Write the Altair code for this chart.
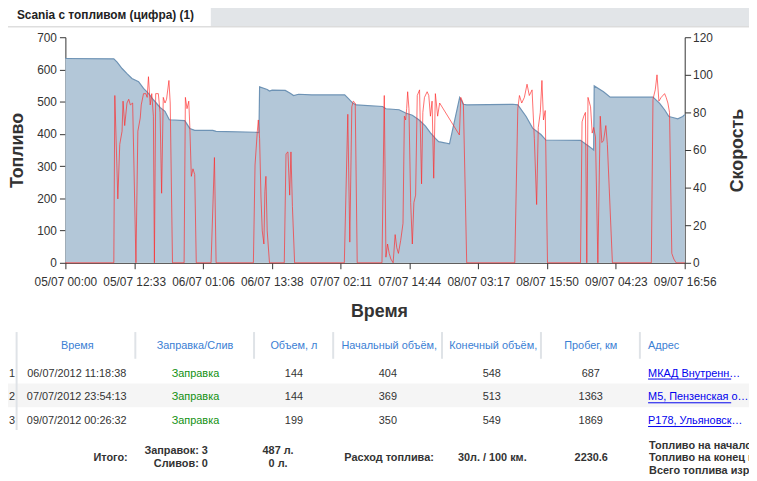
import altair as alt
import pandas as pd

FONT = "Liberation Sans"

# ---- fuel level (minutes since 05/07/2012 00:00, litres)
fuel_t = [0, 530, 566, 620, 674, 728, 801, 855, 909, 963, 1036, 1090, 1137, 1306, 1361, 1415, 1613, 1649, 2100, 2118,
          2125, 2208, 2233, 2262, 2406, 2460, 2497, 2551, 2695, 3056, 3092, 3147, 3182, 3471, 3507, 3651, 3723, 3796, 3867, 3940,
          3994, 4048, 4084, 4203, 4314, 4355, 4391, 4896, 4950, 5041, 5112, 5149, 5203, 5257, 5636, 5726, 5780, 5786, 5888, 5961,
          6429, 6502, 6556, 6603, 6646, 6700, 6754, 6776]
fuel_v = [634, 633, 623, 603, 587, 572, 562, 541, 526, 506, 482, 470, 444, 441, 417, 411, 411, 408, 405, 404,
          546, 538, 533, 536, 535, 526, 519, 523, 521, 521, 511, 495, 490, 485, 478, 475, 465, 458, 444, 424,
          403, 386, 376, 369, 513, 492, 490, 492, 490, 454, 418, 410, 398, 381, 380, 362, 350, 549, 531, 514,
          514, 495, 475, 454, 451, 447, 454, 460]

# ---- speed (minutes since 05/07/2012 00:00, km/h)
speed_t = [0, 530, 541, 574, 595, 620, 631, 649, 674, 693, 711, 736, 772, 793, 819, 830, 855, 880, 895, 909,
           928, 945, 963, 974, 988, 1017, 1036, 1053, 1071, 1090, 1107, 1133, 1147, 1172, 1299, 1313, 1331, 1350, 1361, 1378,
           1396, 1415, 1432, 1594, 1631, 1649, 2057, 2075, 2100, 2111, 2125, 2140, 2154, 2172, 2183, 2194, 2208, 2233, 2395, 2414,
           2435, 2454, 2468, 2484, 2508, 3052, 3090, 3112, 3134, 3150, 3171, 3193, 3464, 3489, 3507, 3525, 3543, 3561, 3586, 3608,
           3626, 3644, 3669, 3694, 3709, 3723, 3734, 3745, 3759, 3778, 3796, 3813, 3832, 3850, 3875, 3897, 3911, 3929, 3958, 3976,
           3994, 4012, 4030, 4048, 4073, 4095, 4311, 4326, 4344, 4355, 4391, 4917, 4950, 4968, 4993, 5022, 5051, 5076, 5106, 5131,
           5156, 5174, 5196, 5214, 5231, 5250, 5275, 5636, 5653, 5672, 5690, 5705, 5718, 5746, 5764, 5780, 5800, 5826, 5852, 5870,
           5888, 5913, 5930, 5985, 6411, 6429, 6454, 6473, 6494, 6519, 6556, 6573, 6592, 6610, 6635, 6657, 6682, 6776]
speed_v = [0, 0, 89, 34, 63, 70, 86, 73, 85, 87, 84, 85, 0, 70, 77, 84, 90, 90, 88, 99,
           84, 90, 78, 0, 90, 90, 80, 37, 88, 85, 87, 97, 85, 0, 0, 88, 82, 86, 73, 46,
           50, 47, 0, 0, 56, 0, 0, 52, 70, 76, 66, 35, 17, 10, 38, 46, 17, 0, 0, 58,
           59, 36, 59, 30, 0, 0, 79, 11, 83, 86, 85, 0, 0, 89, 3, 10, 5, 2, 0, 15,
           8, 5, 12, 21, 78, 76, 82, 91, 82, 32, 10, 32, 36, 89, 92, 42, 80, 88, 91, 89,
           78, 86, 45, 90, 78, 85, 68, 88, 86, 84, 0, 0, 82, 89, 85, 88, 95, 89, 92, 66,
           31, 72, 80, 97, 76, 81, 0, 0, 75, 78, 80, 0, 88, 83, 69, 72, 67, 0, 78, 64,
           65, 73, 63, 0, 0, 87, 92, 100, 86, 88, 90, 88, 85, 80, 5, 2, 0, 0]

x_ticks = [0, 753, 1506, 2258, 3011, 3764, 4517, 5270, 6023, 6776]
fuel_ticks = [0, 100, 200, 300, 400, 500, 600, 700]
speed_ticks = [0, 20, 40, 60, 80, 100, 120]

# ---- table
tab_title = "Scania с топливом (цифра) (1)"
headers = ["Время", "Заправка/Слив", "Объем, л", "Начальный объём, л", "Конечный объём, л", "Пробег, км", "Адрес"]
row_no = [1, 2, 3]
ev_time = ["06/07/2012 11:18:38", "07/07/2012 23:54:13", "09/07/2012 00:26:32"]
ev_type = ["Заправка", "Заправка", "Заправка"]
ev_volume = [144, 144, 199]
ev_start = [404, 369, 350]
ev_end = [548, 513, 549]
ev_mileage = [687, 1363, 1869]
ev_address = ["МКАД Внутренн…", "М5, Пензенская о…", "Р178, Ульяновск…"]
totals_label = "Итого:"
totals_counts = ["Заправок: 3", "Сливов:  0"]
totals_volumes = ["487 л.", "0 л."]
consumption_label = "Расход топлива:"
consumption_value = "30л. / 100 км."
distance_total = "2230.6"
fuel_summary = ["Топливо на начало периода:", "Топливо на конец периода:", "Всего топлива израсходовано:"]

W, H = 626, 228
one = pd.DataFrame({"k": [0]})

fuel_df = pd.DataFrame({"t": fuel_t, "fuel": fuel_v})
speed_df = pd.DataFrame({"t": speed_t, "speed": speed_v})
x_scale = alt.Scale(domain=[0, 6776], nice=False, zero=False)

area = alt.Chart(fuel_df).mark_area(
    color="#b3c7d8", opacity=1,
    line=alt.OverlayMarkDef(color="#6e93b5", strokeWidth=1.2),
).encode(
    x=alt.X("t:Q", scale=x_scale, axis=alt.Axis(
        values=x_ticks,
        labelExpr="utcFormat(utc(2012, 6, 5, 0, datum.value), '%d/%m %H:%M')",
        title="Время", titleX=317, titleY=49, titleBaseline="middle", titleAlign="center",
        titleFontSize=18, titleFontWeight="bold",
        labelOverlap=False, labelFlush=False, labelPadding=8, grid=False)),
    y=alt.Y("fuel:Q", scale=alt.Scale(domain=[0, 700], nice=False), axis=alt.Axis(
        values=fuel_ticks, orient="left", title="Топливо", titleX=-48, titleY=114,
        titleAngle=270, titleBaseline="middle", titleAlign="center",
        titleFontSize=18, titleFontWeight="bold", labelPadding=3, grid=False)),
)

line = alt.Chart(speed_df).mark_line(color="#ff2a2a", strokeWidth=1, opacity=0.68).encode(
    x=alt.X("t:Q", scale=x_scale, axis=None),
    y=alt.Y("speed:Q", scale=alt.Scale(domain=[0, 120], nice=False), axis=alt.Axis(
        values=speed_ticks, orient="right", title="Скорость", titleX=53, titleY=114,
        titleAngle=270, titleBaseline="middle", titleAlign="center",
        titleFontSize=18, titleFontWeight="bold", labelPadding=2, grid=False)),
)


def rect(x, x2, y, y2, color):
    return alt.Chart(one).mark_rect(color=color).encode(
        x=alt.value(x), x2=alt.value(x2), y=alt.value(y), y2=alt.value(y2))


def rule(x, x2, y, y2, color, width=1):
    return alt.Chart(one).mark_rule(color=color, strokeWidth=width).encode(
        x=alt.value(x), x2=alt.value(x2), y=alt.value(y), y2=alt.value(y2))


def label(txt, x, y, size=11, color="#333333", weight="normal", align="center", limit=None):
    kw = {}
    if limit is not None:
        kw = dict(limit=limit, ellipsis="\u200b")
    return alt.Chart(one).mark_text(
        text=txt, font=FONT, fontSize=size, color=color, fontWeight=weight,
        align=align, baseline="middle", **kw).encode(x=alt.value(x), y=alt.value(y))


row_scale = alt.Scale(domain=[1, 3], range=[340, 388], nice=False, zero=False)


def column(values, x, color="#333333", align="center"):
    df = pd.DataFrame({"row": row_no, "txt": [str(v) for v in values]})
    return alt.Chart(df).mark_text(
        font=FONT, fontSize=11, color=color, align=align, baseline="middle").encode(
        x=alt.value(x), y=alt.Y("row:Q", scale=row_scale, axis=None), text="txt:N")


layers = [
    # tab header
    rect(147, 691, -40, -11, "#e2e5e8"),
    rule(-66, 691, -10.5, -10.5, "#cccccc"),
    label(tab_title, -49, -22, size=12, color="#222222", weight="bold", align="left"),
    # chart
    area, line,
    # table backgrounds / separators
    rect(-66, 691, 350, 374, "#f5f5f5"),
    rule(-49.3, -49.3, 298, 397, "#dfe3e7", 2),
]
for sx in [70.7, 190.7, 270.7, 380.7, 480.7, 580.7]:
    layers.append(rule(sx, sx, 298, 325, "#dfe3e7", 2))

hdr_color = "#3b80d4"
hdr_pos = [(12, "center", None), (131, "center", None), (231, "center", None),
           (279, "left", 102), (388, "left", 92), (531, "center", None), (589, "left", None)]
for h, (hx, ha, hl) in zip(headers, hdr_pos):
    layers.append(label(h, hx, 312, color=hdr_color, align=ha, limit=hl))

layers += [
    column(row_no, -54),
    column(ev_time, 11.5),
    column(ev_type, 131.5, color="#119011"),
    column(ev_volume, 231),
    column(ev_start, 326),
    column(ev_end, 431),
    column(ev_mileage, 531),
    column(ev_address, 589, color="#0000ee", align="left"),
    alt.Chart(pd.DataFrame({"row": row_no})).mark_rule(color="#0000ee", strokeWidth=1).encode(
        x=alt.value(589), x2=alt.value(673),
        y=alt.Y("row:Q", scale=alt.Scale(domain=[1, 3], range=[345.5, 393.5], nice=False, zero=False), axis=None)),
    # totals
    label(totals_label, 63, 425, weight="bold", align="right"),
    label(totals_counts[0], 144, 418, weight="bold", align="right"),
    label(totals_counts[1], 144, 431, weight="bold", align="right"),
    label(totals_volumes[0], 215, 418, weight="bold"),
    label(totals_volumes[1], 215, 431, weight="bold"),
    label(consumption_label, 282, 425, weight="bold", align="left"),
    label(consumption_value, 431.5, 425, weight="bold"),
    label(distance_total, 531.5, 425, weight="bold"),
    label(fuel_summary[0], 590, 413, weight="bold", align="left"),
    label(fuel_summary[1], 590, 425, weight="bold", align="left"),
    label(fuel_summary[2], 590, 438, weight="bold", align="left"),
]

chart = alt.layer(*layers).resolve_scale(
    x="independent", y="independent"
).properties(
    width=W, height=H,
    padding={"left": 58, "top": 27, "right": 65, "bottom": 218},
    autosize=alt.AutoSizeParams(type="none"),
    background="white",
).configure_view(stroke=None).configure_axis(
    labelFont=FONT, titleFont=FONT, labelFontSize=12,
    labelColor="#333333", titleColor="#333333",
    domainColor="#333333", tickColor="#333333", tickSize=6,
)

chart.save("out.html", embed_options={"renderer": "svg", "actions": False})
